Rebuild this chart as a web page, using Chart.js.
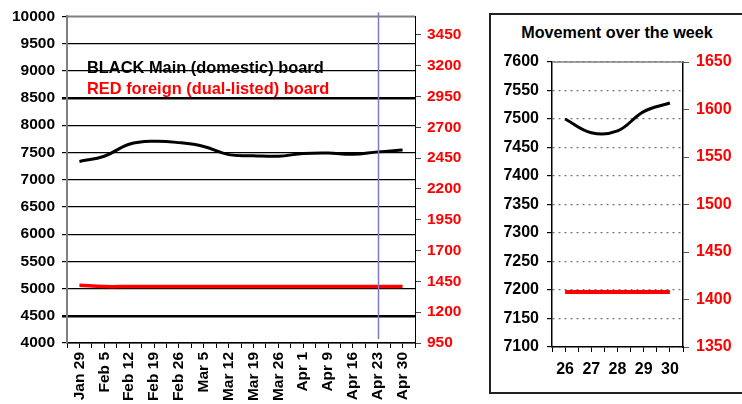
<!DOCTYPE html>
<html>
<head>
<meta charset="utf-8">
<script src="https://cdn.jsdelivr.net/npm/chart.js"></script>
<style>
    body { margin: 0; width: 742px; height: 404px; overflow: hidden; position: relative; background: #fff;
           font-family: "Liberation Sans", Arial, sans-serif; }
    #main { position: absolute; left: 0; top: 0; }
    #week { position: absolute; left: 492px; top: 40px; }
    #weekBox { position: absolute; left: 489px; top: 13px; width: 256px; height: 381px;
               border: 2px solid #222; box-sizing: border-box; }
    .note { position: absolute; font-weight: bold; font-size: 16.4px; line-height: 16px; white-space: nowrap; }
    #weekTitle { left: 489px; width: 256px; top: 24px; text-align: center; color: #000; font-size: 16.2px; }
</style>
</head>
<body>
<canvas id="main" width="480" height="404"></canvas>
<div class="note" style="left:87px; top:59px; color:#000;">BLACK Main (domestic) board</div>
<div class="note" style="left:87px; top:80px; color:#ff0000;">RED foreign (dual-listed) board</div>
<div id="weekBox"></div>
<div class="note" id="weekTitle">Movement over the week</div>
<canvas id="week" width="250" height="362"></canvas>
<script>
// main chart - weekly closes
const weeks = ["Jan 29", "Feb 5", "Feb 12", "Feb 19", "Feb 26", "Mar 5", "Mar 12",
               "Mar 19", "Mar 26", "Apr 1", "Apr 9", "Apr 16", "Apr 23", "Apr 30"];
const mainBoard = [7335, 7430, 7650, 7705, 7680, 7610, 7460, 7440, 7430, 7480, 7490, 7465, 7510, 7545];
const foreignBoard = [1418, 1408, 1408, 1408, 1408, 1408, 1408, 1408, 1408, 1408, 1408, 1408, 1408, 1408];
const mainTicks = [4000, 4500, 5000, 5500, 6000, 6500, 7000, 7500, 8000, 8500, 9000, 9500, 10000];
const foreignTicks = [950, 1200, 1450, 1700, 1950, 2200, 2450, 2700, 2950, 3200, 3450];
const markerWeek = "Apr 23";

// small chart - days of the last week
const days = ["26", "27", "28", "29", "30"];
const weekMain = [7500, 7476, 7479, 7513, 7528];
const weekForeign = [1408, 1408, 1408, 1408, 1408];
const weekMainTicks = [7100, 7150, 7200, 7250, 7300, 7350, 7400, 7450, 7500, 7550, 7600];
const weekForeignTicks = [1350, 1400, 1450, 1500, 1550, 1600, 1650];

const RED = "#ff0000";
Chart.defaults.font.family = "'Liberation Sans', Arial, sans-serif";
Chart.defaults.font.weight = "bold";
Chart.defaults.color = "#000";

// each category sits in the middle of a 2-unit slot, so tick marks fall on edges and centers
const slot = (i) => 2 * i + 1;
const toPoints = (vals) => vals.map((v, i) => ({ x: slot(i), y: v }));
const setTicks = (vals) => (s) => { s.ticks = vals.map((v) => ({ value: v })); };
const range = (n) => Array.from({ length: n + 1 }, (_, v) => v);
const plain = (v) => String(v);

const frameLines = {
    id: "frameLines",
    afterDraw(chart, args, opts) {
        const { ctx, chartArea: a, scales } = chart;
        ctx.save();
        ctx.strokeStyle = "#808080";
        ctx.lineWidth = 1.5;
        ctx.beginPath();
        ctx.moveTo(a.left, a.top);
        ctx.lineTo(a.right, a.top);
        ctx.stroke();
        if (opts.markerX != null) {
            const x = Math.round(scales.x.getPixelForValue(opts.markerX)) + 0.5;
            ctx.strokeStyle = "#7a7ac8";
            ctx.lineWidth = 1.5;
            ctx.beginPath();
            ctx.moveTo(x, a.top - 4);
            ctx.lineTo(x, a.bottom - 4);
            ctx.stroke();
        }
        ctx.restore();
    },
};

const lineStyle = { pointRadius: 0, tension: 0.4, fill: false };

new Chart(document.getElementById("main"), {
    type: "line",
    data: {
        datasets: [
            { ...lineStyle, data: toPoints(mainBoard), yAxisID: "y", borderColor: "#000", borderWidth: 3 },
            { ...lineStyle, data: toPoints(foreignBoard), yAxisID: "y2", borderColor: RED, borderWidth: 3.5 },
        ],
    },
    options: {
        responsive: false,
        animation: false,
        layout: { padding: { top: 14 } },
        plugins: {
            legend: { display: false },
            tooltip: { enabled: false },
            frameLines: { markerX: slot(weeks.indexOf(markerWeek)) },
        },
        scales: {
            x: {
                type: "linear",
                min: 0,
                max: weeks.length * 2,
                afterBuildTicks: setTicks(range(weeks.length * 2)),
                afterFit: (s) => { s.height = 61; },
                grid: { drawOnChartArea: false, tickLength: 5, color: "#000" },
                border: { color: "#000", width: 1.5 },
                ticks: {
                    autoSkip: false,
                    minRotation: 90,
                    maxRotation: 90,
                    padding: 4,
                    font: { size: 15.5 },
                    callback: (v) => (v % 2 === 1 ? weeks[(v - 1) / 2] : ""),
                },
            },
            y: {
                position: "left",
                min: 4000,
                max: 10000,
                afterBuildTicks: setTicks(mainTicks),
                afterFit: (s) => { s.width = 67; },
                grid: {
                    color: "#000",
                    tickLength: 5,
                    lineWidth: (c) => (c.tick && (c.tick.value === 4500 || c.tick.value === 8500) ? 2.5 : 1.2),
                },
                border: { color: "#808080", width: 2 },
                ticks: { padding: 7, font: { size: 15.5 }, callback: plain },
            },
            y2: {
                position: "right",
                min: 950,
                max: 3600,
                afterBuildTicks: setTicks(foreignTicks),
                afterFit: (s) => { s.width = 65; },
                grid: { drawOnChartArea: false, tickLength: 6, color: "#444" },
                border: { color: "#000", width: 1 },
                ticks: { padding: 6, color: RED, font: { size: 15.5 }, callback: plain },
            },
        },
    },
    plugins: [frameLines],
});

new Chart(document.getElementById("week"), {
    type: "line",
    data: {
        datasets: [
            { ...lineStyle, data: toPoints(weekMain), yAxisID: "y", borderColor: "#000", borderWidth: 3 },
            { ...lineStyle, data: toPoints(weekForeign), yAxisID: "y2", borderColor: RED, borderWidth: 4 },
        ],
    },
    options: {
        responsive: false,
        animation: false,
        layout: { padding: { top: 22 } },
        plugins: {
            legend: { display: false },
            tooltip: { enabled: false },
            frameLines: {},
        },
        scales: {
            x: {
                type: "linear",
                min: 0,
                max: days.length * 2,
                afterBuildTicks: setTicks(range(days.length * 2)),
                afterFit: (s) => { s.height = 55; },
                grid: { drawOnChartArea: false, tickLength: 5, color: "#000" },
                border: { color: "#000", width: 1.5 },
                ticks: {
                    autoSkip: false,
                    minRotation: 0,
                    maxRotation: 0,
                    padding: 8,
                    font: { size: 16 },
                    callback: (v) => (v % 2 === 1 ? days[(v - 1) / 2] : ""),
                },
            },
            y: {
                position: "left",
                min: 7100,
                max: 7600,
                afterBuildTicks: setTicks(weekMainTicks),
                afterFit: (s) => { s.width = 60; },
                grid: { color: "#777", tickColor: "#000", tickLength: 5, tickBorderDash: [], lineWidth: 1.2 },
                border: { color: "#000", width: 1.5, dash: [2, 4] },
                ticks: { padding: 8, font: { size: 16 }, callback: plain },
            },
            y2: {
                position: "right",
                min: 1350,
                max: 1650,
                afterBuildTicks: setTicks(weekForeignTicks),
                afterFit: (s) => { s.width = 59; },
                grid: { drawOnChartArea: false, tickLength: 6, color: "#555" },
                border: { color: "#000", width: 1.5 },
                ticks: { padding: 7, color: RED, font: { size: 16 }, callback: plain },
            },
        },
    },
    plugins: [frameLines],
});
</script>
</body>
</html>
